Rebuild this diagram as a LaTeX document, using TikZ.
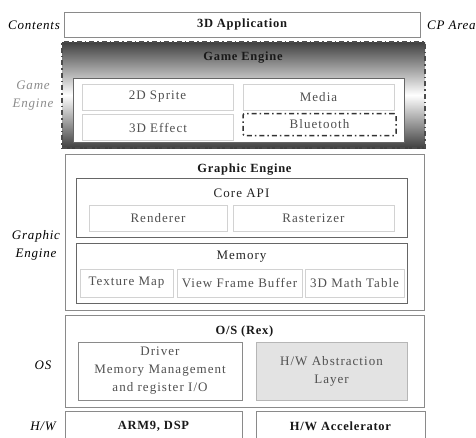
\documentclass[tikz,border=0pt]{standalone}
\usepackage{fontspec}
\setmainfont{Liberation Serif}
\usetikzlibrary{positioning}
\definecolor{boxLine}{HTML}{8A8A8A}
\definecolor{leafLine}{HTML}{D2D2D2}
\definecolor{leafText}{HTML}{505050}
\definecolor{halFill}{HTML}{E3E3E3}
\definecolor{sideGray}{HTML}{8C8C8C}
\newcommand{\leaffont}{\fontsize{13}{18}\selectfont\addfontfeature{LetterSpace=8}}
\newcommand{\titlefont}{\fontsize{12.5}{18}\selectfont\bfseries\addfontfeature{LetterSpace=6}}
\newcommand{\sidefont}{\fontsize{13}{18}\selectfont\itshape\addfontfeature{LetterSpace=6}}

\begin{document}
\begin{tikzpicture}[x=1pt, y=-1pt,
    layer/.style={rectangle, draw=boxLine, line width=0.9pt, fill=white, inner sep=0pt},
    group/.style={rectangle, draw=black!60, line width=1pt, fill=white, inner sep=0pt},
    leaf/.style={rectangle, draw=leafLine, line width=0.7pt, fill=white, inner sep=0pt,
      text=leafText, font=\leaffont, align=center},
    title/.style={font=\titlefont, text=black!90, inner sep=0pt},
    sub/.style={font=\leaffont, text=black!85, inner sep=0pt},
    side/.style={font=\sidefont, align=center, inner sep=0pt},
    dashdot/.style={dash pattern=on 5pt off 3pt on 1.5pt off 3pt}
  ]
  \clip (0,0) rectangle (476,437);
  \fill[white] (0,0) rectangle (476,437);

  % contents
  \node[layer, minimum width=356pt, minimum height=25pt] (app) at (242,24.5) {};
  \node[title] (apptxt) at (242,24.5) {3D Application};

  % game engine
  \node[rectangle, draw=black!70, line width=1.8pt, dashdot, inner sep=0pt,
    top color=black!75, bottom color=black!75, middle color=white,
    minimum width=363pt, minimum height=106pt] (game) at (243.5,95) {};
  \node[title] (gametxt) at (243,58) {Game Engine};
  \node[group, minimum width=331pt, minimum height=64pt] (gamein) at (238.5,110) {};
  \node[leaf, minimum width=151pt, minimum height=26pt] (sprite) at (157.5,97) {2D Sprite};
  \node[leaf, minimum width=151pt, minimum height=26pt] (media) at (318.5,97) {Media};
  \node[leaf, minimum width=151pt, minimum height=26pt] (effect) at (158,127.5) {3D Effect};
  \node[leaf, draw=black!80, line width=1.5pt, dashdot, rounded corners=2pt,
    minimum width=153pt, minimum height=22pt] (bt) at (319.5,124.5) {Bluetooth};

  % graphic engine
  \node[layer, minimum width=359pt, minimum height=156pt] (graphic) at (244.5,232) {};
  \node[title] (graphictxt) at (244.5,170) {Graphic Engine};
  \node[group, minimum width=331pt, minimum height=59pt] (core) at (241.5,207.5) {};
  \node[sub] (coretxt) at (241.5,193) {Core API};
  \node[leaf, minimum width=138pt, minimum height=26pt] (render) at (158,218) {Renderer};
  \node[leaf, minimum width=161pt, minimum height=26pt] (raster) at (313.5,218) {Rasterizer};
  \node[group, minimum width=331pt, minimum height=60pt] (memory) at (241.5,273) {};
  \node[sub] (memtxt) at (241.5,257) {Memory};
  \node[leaf, minimum width=93pt, minimum height=28pt] (texture) at (126.5,283) {Texture Map};
  \node[leaf, minimum width=125pt, minimum height=28pt] (vfb) at (239.5,283) {View Frame Buffer};
  \node[leaf, minimum width=99pt, minimum height=28pt] (math) at (354.5,283) {3D Math Table};

  % os
  \node[layer, minimum width=359pt, minimum height=92pt] (os) at (244.5,361) {};
  \node[title] (ostxt) at (244.5,331) {O/S (Rex)};
  \node[leaf, draw=boxLine, line width=0.9pt, minimum width=164pt, minimum height=58pt] (driver)
    at (160,371) {Driver\\Memory Management\\and register I/O};
  \node[leaf, draw=halFill!80!black, fill=halFill, minimum width=151pt, minimum height=58pt] (hal)
    at (331.5,371) {H/W Abstraction\\Layer};

  % hardware
  \node[layer, minimum width=177pt, minimum height=30pt] (arm) at (153.5,426) {};
  \node[title] (armtxt) at (153.5,426) {ARM9, DSP};
  \node[layer, minimum width=169pt, minimum height=30pt] (acc) at (340.5,426) {};
  \node[title] (acctxt) at (340.5,426) {H/W Accelerator};

  % side labels
  \node[side] (lcont) at (34,25) {Contents};
  \node[side, text=sideGray] (lgame) at (33,96) {Game\\Engine};
  \node[side] (lgraph) at (36,245) {Graphic\\Engine};
  \node[side] (los) at (43,365) {OS};
  \node[side] (lhw) at (43,426) {H/W};
  \node[side, anchor=west] (lcp) at (427,25) {CP Area};
\end{tikzpicture}
\end{document}
